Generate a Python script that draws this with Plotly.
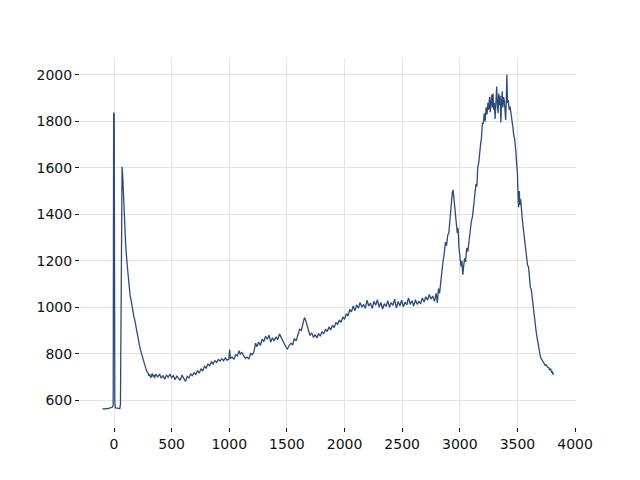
import plotly.graph_objects as go

x_vals = [
    -100, -85, -70, -55, -40, -25, -12, -7, -3, 2, 7, 12, 25, 40, 50, 56, 62, 70, 76, 82,
    88, 93, 97, 100, 104, 108, 112, 117, 121, 127, 134, 141, 148, 155, 165, 172, 180, 188, 195, 202,
    210, 217, 223, 230, 238, 246, 254, 260, 266, 274, 281, 288, 295, 302, 310, 317, 324, 331, 338, 345,
    352, 360, 367, 380, 395, 410, 425, 440, 455, 470, 485, 500, 515, 530, 545, 560, 575, 590, 605, 620,
    635, 650, 665, 680, 695, 710, 725, 740, 755, 770, 785, 800, 815, 830, 845, 860, 875, 890, 905, 920,
    935, 950, 965, 980, 995, 1003, 1010, 1025, 1040, 1055, 1070, 1085, 1095, 1110, 1125, 1140, 1155, 1170, 1185, 1200,
    1215, 1228, 1240, 1255, 1270, 1285, 1300, 1315, 1330, 1345, 1360, 1375, 1390, 1405, 1420, 1435, 1450, 1465, 1480, 1495,
    1505, 1520, 1535, 1550, 1565, 1580, 1595, 1610, 1625, 1640, 1652, 1662, 1675, 1690, 1700, 1715, 1730, 1745, 1760, 1775,
    1790, 1805, 1820, 1835, 1850, 1865, 1880, 1895, 1910, 1925, 1940, 1955, 1970, 1985, 2000, 2015, 2030, 2045, 2060, 2075,
    2090, 2105, 2120, 2135, 2150, 2165, 2180, 2195, 2210, 2225, 2240, 2255, 2270, 2285, 2300, 2315, 2330, 2345, 2360, 2375,
    2390, 2405, 2420, 2435, 2450, 2465, 2480, 2495, 2510, 2525, 2540, 2555, 2570, 2585, 2600, 2615, 2630, 2645, 2660, 2675,
    2690, 2705, 2720, 2735, 2750, 2765, 2780, 2795, 2805, 2815, 2825, 2835, 2845, 2855, 2865, 2875, 2885, 2895, 2905, 2915,
    2925, 2935, 2942, 2950, 2960, 2970, 2978, 2985, 2992, 3000, 3010, 3018, 3026, 3034, 3042, 3050, 3060, 3070, 3080, 3090,
    3100, 3110, 3120, 3130, 3140, 3148, 3156, 3164, 3172, 3180, 3188, 3196, 3204, 3212, 3220, 3228, 3236, 3244, 3250, 3258,
    3264, 3270, 3276, 3282, 3288, 3294, 3300, 3306, 3312, 3320, 3326, 3332, 3338, 3344, 3350, 3356, 3362, 3368, 3374, 3380,
    3386, 3392, 3398, 3404, 3408, 3414, 3420, 3428, 3436, 3444, 3452, 3460, 3468, 3476, 3484, 3492, 3500, 3506, 3510, 3516,
    3522, 3528, 3534, 3540, 3548, 3556, 3564, 3572, 3580, 3588, 3596, 3604, 3612, 3620, 3628, 3636, 3644, 3652, 3660, 3668,
    3676, 3684, 3692, 3700, 3710, 3720, 3730, 3740, 3750, 3760, 3770, 3780, 3788, 3796, 3802, 3808, 3812,
]

y_vals = [
    563, 561, 564, 562, 565, 566, 570, 580, 1838, 1830, 590, 566, 565, 564, 563, 580, 1100, 1605, 1560, 1470,
    1400, 1354, 1340, 1280, 1246, 1200, 1215, 1170, 1147, 1110, 1080, 1045, 1030, 1005, 988, 960, 945, 920, 905, 887,
    860, 845, 830, 815, 800, 787, 775, 765, 758, 740, 728, 720, 716, 705, 712, 698, 700, 715, 702, 708,
    695, 712, 708, 700, 712, 694, 705, 690, 708, 698, 712, 696, 705, 688, 703, 695, 685, 708, 690, 680,
    702, 695, 712, 705, 718, 710, 727, 716, 735, 725, 745, 738, 755, 748, 765, 755, 770, 762, 775, 768,
    778, 770, 782, 772, 775, 818, 780, 785, 775, 795, 790, 812, 798, 805, 790, 780, 785, 778, 800, 795,
    810, 845, 830, 850, 835, 862, 852, 875, 862, 880, 850, 868, 855, 872, 860, 885, 870, 858, 840, 825,
    820, 835, 845, 838, 865, 855, 880, 905, 900, 930, 955, 945, 920, 895, 878, 890, 870, 882, 868, 885,
    875, 895, 885, 905, 895, 915, 902, 922, 912, 935, 925, 945, 935, 958, 948, 972, 962, 990, 980, 1005,
    985, 1010, 995, 1020, 1000, 1012, 995, 1030, 1005, 1018, 995, 1025, 1008, 1032, 1000, 1020, 992, 1015, 1003, 1028,
    1000, 1020, 1008, 1035, 996, 1025, 1005, 1030, 1002, 1022, 1010, 1040, 1012, 1028, 1005, 1032, 1012, 1025, 1015, 1040,
    1022, 1045, 1030, 1055, 1035, 1048, 1025, 1060, 1018, 1080, 1060, 1110, 1170, 1200, 1230, 1280, 1265, 1310, 1320, 1390,
    1450, 1495, 1505, 1470, 1420, 1360, 1320, 1340, 1260, 1230, 1175, 1200, 1140, 1180, 1210, 1195, 1255, 1240, 1290, 1320,
    1370, 1390, 1440, 1460, 1530, 1520, 1605, 1620, 1680, 1700, 1730, 1795, 1790, 1835, 1800, 1860, 1830, 1880, 1850, 1905,
    1840, 1900, 1915, 1860, 1920, 1850, 1880, 1810, 1900, 1950, 1870, 1835, 1920, 1870, 1910, 1795, 1880, 1930, 1860, 1905,
    1890, 1840, 1806, 1900, 2002, 1880, 1892, 1850, 1864, 1835, 1790, 1777, 1740, 1725, 1680, 1620, 1575, 1470, 1430, 1500,
    1440, 1465, 1400, 1390, 1350, 1318, 1280, 1240, 1220, 1180, 1175, 1120, 1085, 1075, 1035, 995, 975, 935, 905, 875,
    850, 825, 800, 785, 775, 765, 760, 750, 752, 742, 740, 730, 735, 718, 725, 710, 718,
]

x_ticks = [0, 500, 1000, 1500, 2000, 2500, 3000, 3500, 4000]
y_ticks = [600, 800, 1000, 1200, 1400, 1600, 1800, 2000]

fig = go.Figure(
    go.Scatter(
        x=x_vals, y=y_vals, mode="lines",
        line=dict(color="#2f4b7c", width=1.3),
        hoverinfo="skip",
    )
)

axis_common = dict(
    showline=False, zeroline=False,
    showgrid=True, gridcolor="#e4e4e4", gridwidth=1.3,
    ticks="outside", ticklen=4, tickwidth=1, tickcolor="#111111",
    tickfont=dict(family="DejaVu Sans", size=14, color="#111111"),
)

# page body has an 8px default margin, so the figure is sized and offset to compensate
fig.update_layout(
    width=632, height=472,
    margin=dict(l=72, r=64, t=50, b=53),
    paper_bgcolor="white", plot_bgcolor="white",
    showlegend=False,
    xaxis=dict(range=[-295, 4008], tickvals=x_ticks, **axis_common),
    yaxis=dict(range=[484, 2073], tickvals=y_ticks, **axis_common),
)

fig.write_html("out.html")
